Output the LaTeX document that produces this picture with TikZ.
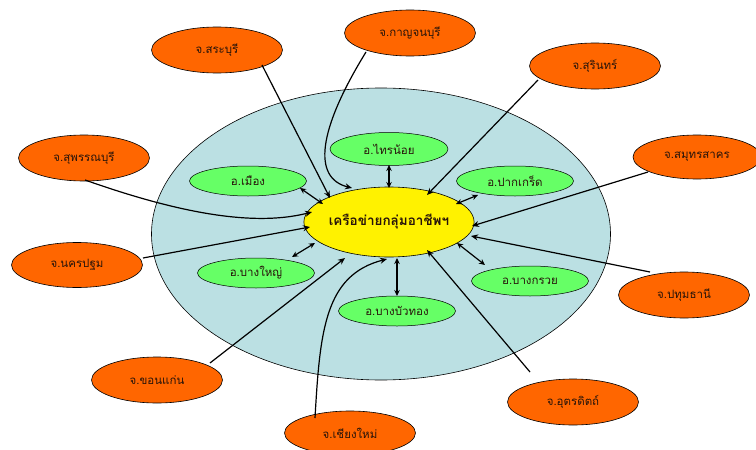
\documentclass[tikz,border=0pt]{standalone}
\usepackage{fontspec}
\newfontfamily\thaifont[Script=Thai]{Loma}
\usetikzlibrary{shapes.geometric,arrows.meta}
\definecolor{bigblue}{RGB}{187,224,227}
\definecolor{prov}{RGB}{255,102,0}
\definecolor{dist}{RGB}{102,255,102}
\definecolor{txt}{RGB}{40,20,10}
\begin{document}
\begin{tikzpicture}[x=1pt,y=-1pt,
  every node/.style={font=\thaifont\fontsize{11.5}{13}\selectfont, text=txt},
  provnode/.style={ellipse, draw=black, line width=0.6pt, fill=prov, minimum width=131pt, minimum height=46pt, inner sep=0pt},
  distnode/.style={ellipse, draw=black, line width=0.5pt, fill=dist, minimum width=117pt, minimum height=30pt, inner sep=0pt},
  link/.style={line width=1.2pt, -{Stealth[length=7pt,width=6pt]}},
  dlink/.style={line width=1.2pt, {Stealth[length=6pt,width=5.5pt]}-{Stealth[length=6pt,width=5.5pt]}}
]
\useasboundingbox (0,0) rectangle (756,450);
\node[ellipse, draw=black, line width=0.6pt, fill=bigblue, minimum width=459pt, minimum height=292pt, inner sep=0pt] (big) at (381,234) {};
\node[ellipse, draw=black, line width=0.6pt, fill=yellow, minimum width=162pt, minimum height=70pt, inner sep=0pt, font=\thaifont\bfseries\fontsize{13.5}{15}\selectfont] (hub) at (389,222) {เครือข่ายกลุ่มอาชีพฯ};
% districts
\node[distnode, minimum width=118pt, minimum height=33pt] (sainoi) at (389,149) {อ.ไทรน้อย};
\node[distnode] (mueang) at (248,181) {อ.เมือง};
\node[distnode] (pakkret) at (515,181) {อ.ปากเกร็ด};
\node[distnode] (bangyai) at (256,273) {อ.บางใหญ่};
\node[distnode] (bangbuathong) at (397,311) {อ.บางบัวทอง};
\node[distnode] (bangkruai) at (530,281) {อ.บางกรวย};
% provinces
\node[provnode] (saraburi) at (217,50) {จ.สระบุรี};
\node[provnode] (kanchanaburi) at (410,33) {จ.กาญจนบุรี};
\node[provnode] (surin) at (595,66) {จ.สุรินทร์};
\node[provnode, minimum width=128pt, minimum height=44pt] (samutsakhon) at (697,157) {จ.สมุทรสาคร};
\node[provnode] (suphanburi) at (84,158) {จ.สุพรรณบุรี};
\node[provnode, minimum height=45pt] (nakhonpathom) at (77,265) {จ.นครปฐม};
\node[provnode] (khonkaen) at (157,380) {จ.ขอนแก่น};
\node[provnode, minimum height=44pt] (chiangmai) at (350,433) {จ.เชียงใหม่};
\node[provnode] (uttaradit) at (573,402) {จ.อุตรดิตถ์};
\node[provnode] (pathumthani) at (684,295) {จ.ปทุมธานี};
% start points on provinces
\coordinate (pSaraburi) at (262,65);
\coordinate (pKan) at (366,52);
\coordinate (pSurin) at (538,80);
\coordinate (pSamut) at (648,172);
\coordinate (pSuphan) at (85,180);
\coordinate (pNakhon) at (143,258);
\coordinate (pKhon) at (210,363);
\coordinate (pChiang) at (315,418);
\coordinate (pUtt) at (530,372);
\coordinate (pPathum) at (650,272);
% end points on hub
\coordinate (hSaraburi) at (330,198);
\coordinate (hKan) at (352,188);
\coordinate (hSurin) at (427,195);
\coordinate (hSamut) at (472,226);
\coordinate (hSuphan) at (312,212);
\coordinate (hNakhon) at (310,227);
\coordinate (hKhon) at (345,258);
\coordinate (hChiang) at (387,259);
\coordinate (hUtt) at (427,250);
\coordinate (hPathum) at (471,236);
% province links
\draw[link] (pSaraburi) -- (hSaraburi);
\draw[link] (pKan) .. controls (318,130) and (312,178) .. (hKan);
\draw[link] (pSurin) -- (hSurin);
\draw[link] (pSamut) -- (hSamut);
\draw[link] (pSuphan) .. controls (170,210) and (250,228) .. (hSuphan);
\draw[link] (pNakhon) -- (hNakhon);
\draw[link] (pKhon) -- (hKhon);
\draw[link] (pChiang) .. controls (320,330) and (325,275) .. (hChiang);
\draw[link] (pUtt) -- (hUtt);
\draw[link] (pPathum) -- (hPathum);
% district link end points
\coordinate (dMa) at (300,188); \coordinate (dMb) at (323,204);
\coordinate (dSa) at (389,165); \coordinate (dSb) at (389,188);
\coordinate (dPa) at (478,195); \coordinate (dPb) at (456,204);
\coordinate (dYa) at (292,257); \coordinate (dYb) at (315,243);
\coordinate (dBa) at (397,296); \coordinate (dBb) at (397,258);
\coordinate (dKa) at (485,265); \coordinate (dKb) at (457,243);
\draw[dlink] (dMa) -- (dMb);
\draw[dlink] (dSa) -- (dSb);
\draw[dlink] (dPa) -- (dPb);
\draw[dlink] (dYa) -- (dYb);
\draw[dlink] (dBa) -- (dBb);
\draw[dlink] (dKa) -- (dKb);
\end{tikzpicture}
\end{document}
